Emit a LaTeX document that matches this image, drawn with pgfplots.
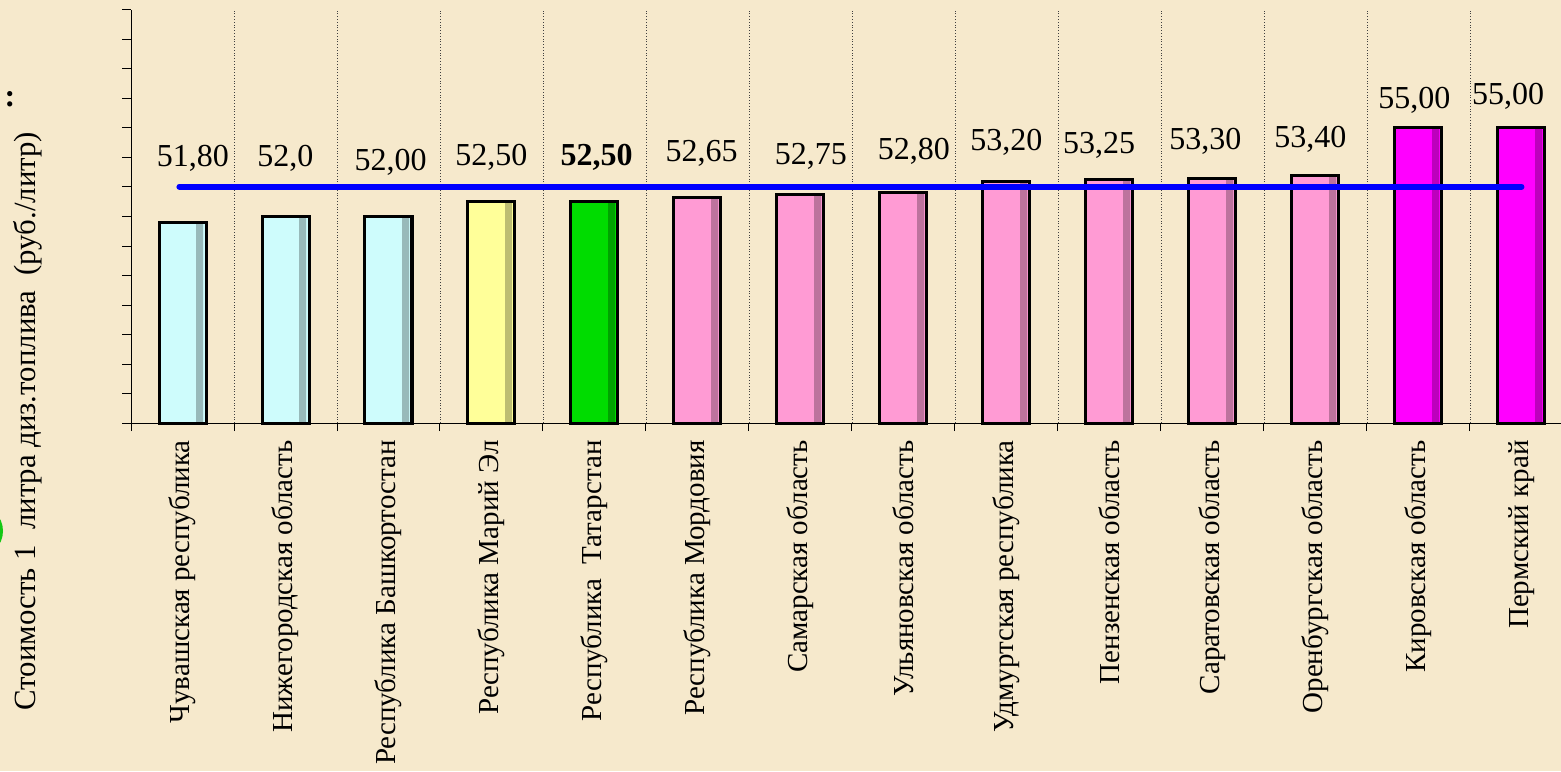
\documentclass[border=0pt]{standalone}
\usepackage{pgfplots}
\pgfplotsset{compat=1.18}
\usepackage{fontspec}
\setmainfont{Liberation Serif}
\definecolor{bg}{RGB}{246,233,204}
\definecolor{cyanbar}{RGB}{206,252,252}
\definecolor{yelbar}{RGB}{255,255,153}
\definecolor{grnbar}{RGB}{0,220,0}
\definecolor{pinkbar}{RGB}{255,155,212}
\definecolor{magbar}{RGB}{255,0,255}
\definecolor{slidegreen}{RGB}{20,200,20}
\pgfplotsset{
  barfill/.style={ybar, bar width=23.5pt, bar shift=0pt, draw=none, fill=#1},
  barstrip/.style={ybar, bar width=3.5pt, bar shift=8.6pt, draw=none, fill=#1!74!black},
  barline/.style={ybar, bar width=23.5pt, bar shift=0pt, draw=black, fill=none, line width=1.5pt},
}
\begin{document}
\begin{tikzpicture}
\useasboundingbox (0,0) rectangle (780.5pt,385.5pt);
\fill[bg] (0,0) rectangle (780.5pt,385.5pt);
\fill[slidegreen] (-11.5pt,120pt) circle (13pt);
\node[font=\bfseries\fontsize{16}{18}\selectfont, inner sep=0pt] at (5pt,336pt) {:};
\node[rotate=90, font=\fontsize{15.4}{17}\selectfont] at (14pt,175pt) {Стоимость 1~~литра диз.топлива~~(руб./литр)};
\begin{axis}[
  at={(65.5pt,174pt)}, anchor=south west,
  scale only axis, width=714.8pt, height=206.5pt,
  y coord trafo/.code={\pgfmathparse{#1-45}},
  y coord inv trafo/.code={\pgfmathparse{#1+45}},
  xmin=-0.5, xmax=13.38, ymin=45, ymax=59,
  clip=false,
  axis x line*=bottom, axis y line*=left,
  axis line style={-, black, line width=0.5pt},
  ytick={45,...,59}, yticklabels={},
  xtick={0,...,13},
  xticklabels={Чувашская республика, Нижегородская область, Республика Башкортостан, Республика Марий Эл, Республика~~Татарстан, Республика Мордовия, Самарская область, Ульяновская область, Удмуртская республика, Пензенская область, Саратовская область, Оренбургская область, Кировская область, Пермский край},
  minor xtick={-0.5,0.5,...,12.5},
  xminorgrids,
  minor grid style={black!75, densely dotted, line width=0.4pt},
  tick align=outside, major tick length=4.5pt, minor tick length=4pt,
  major x tick style={draw=none},
  tick style={black, line width=0.5pt},
  xticklabel style={rotate=90, anchor=east, font=\fontsize{14.5}{16}\selectfont, inner sep=0pt, xshift=-4pt},
]
% fills
\addplot[barfill=cyanbar] coordinates {(0,51.80) (1,52.0) (2,52.00)};
\addplot[barfill=yelbar] coordinates {(3,52.50)};
\addplot[barfill=grnbar] coordinates {(4,52.50)};
\addplot[barfill=pinkbar] coordinates {(5,52.65) (6,52.75) (7,52.80) (8,53.20) (9,53.25) (10,53.30) (11,53.40)};
\addplot[barfill=magbar] coordinates {(12,55.00) (13,55.00)};
% darker right-hand bevel
\addplot[barstrip=cyanbar] coordinates {(0,51.80) (1,52.0) (2,52.00)};
\addplot[barstrip=yelbar] coordinates {(3,52.50)};
\addplot[barstrip=grnbar] coordinates {(4,52.50)};
\addplot[barstrip=pinkbar] coordinates {(5,52.65) (6,52.75) (7,52.80) (8,53.20) (9,53.25) (10,53.30) (11,53.40)};
\addplot[barstrip=magbar] coordinates {(12,55.00) (13,55.00)};
% outlines
\addplot[barline] coordinates {(0,51.80) (1,52.0) (2,52.00) (3,52.50) (4,52.50) (5,52.65) (6,52.75) (7,52.80) (8,53.20) (9,53.25) (10,53.30) (11,53.40) (12,55.00) (13,55.00)};
% average line
\addplot[blue, line width=3pt, line cap=round, sharp plot, mark=none]
  coordinates {(-0.03,53.01) (13,53.01)};
% value labels
\addplot[draw=none, mark=none, nodes near coords, point meta=explicit symbolic,
  every node near coord/.style={anchor=center, inner sep=0pt, font=\fontsize{16}{18}\selectfont, text=black}]
  table[meta=lab] {
x y lab
0.10 53.98 51,80
1.00 53.98 52,0
2.02 53.85 52,00
3.00 54.00 52,50
4.02 54.00 \textbf{52,50}
5.04 54.15 52,65
6.10 54.05 52,75
7.10 54.20 52,80
8.00 54.50 53,20
8.90 54.40 53,25
9.93 54.55 53,30
10.95 54.60 53,40
11.96 55.95 55,00
12.87 56.08 55,00
};
\end{axis}
\end{tikzpicture}
\end{document}
